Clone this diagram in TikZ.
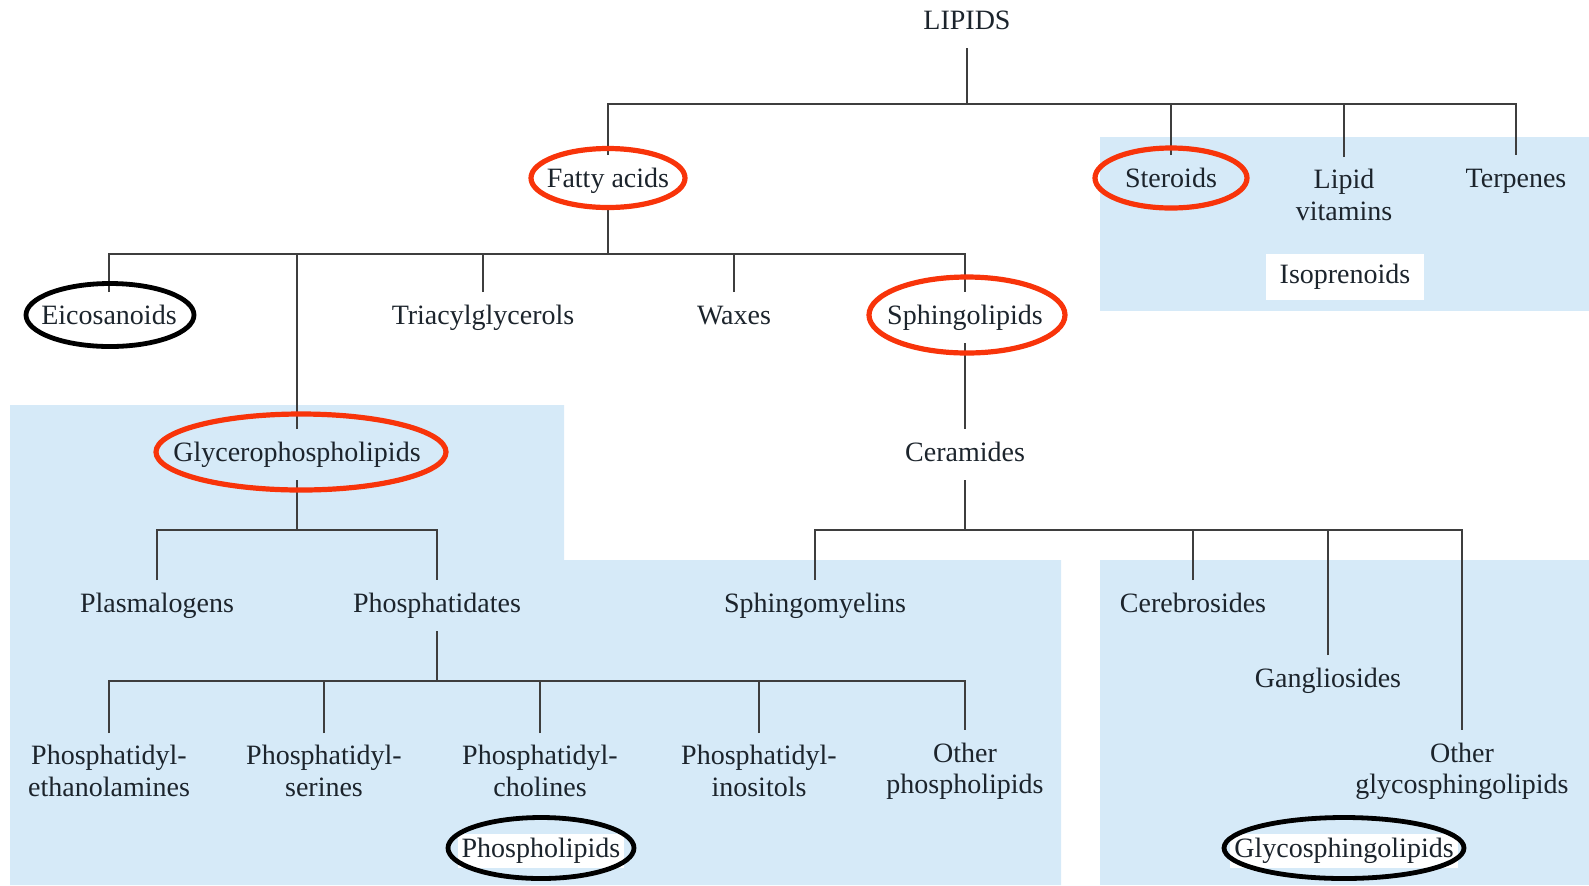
\documentclass[tikz,border=0pt]{standalone}
\usepackage{fontspec}
\setmainfont{Liberation Serif}
\usepackage{tikz}
\usetikzlibrary{shapes.geometric}
\definecolor{panel}{RGB}{214,234,248}
\definecolor{ring}{RGB}{248,52,10}
\definecolor{ink}{RGB}{28,36,44}
\definecolor{wire}{RGB}{62,62,62}
\tikzstyle{item} = [text=ink, text height=10pt, text depth=3pt, inner xsep=3pt, inner ysep=6pt, yshift=-1.3pt]
\tikzstyle{item2} = [text=ink, align=center, inner xsep=3pt, inner ysep=6pt, yshift=-1pt]
\tikzstyle{label} = [item, fill=white, inner ysep=2pt, inner xsep=2pt]
\tikzstyle{link} = [draw=wire, line width=0.9pt]
\tikzstyle{redring} = [draw=ring, line width=2.6pt]
\tikzstyle{blackring} = [draw=black, line width=2.4pt]

\begin{document}
\begin{tikzpicture}[x=0.5pt, y=0.5pt, font=\fontsize{14}{15.7}\selectfont]
\useasboundingbox (0,0) rectangle (1589,-885);
\fill[panel] (1100,-137) rectangle (1589,-311);
\fill[panel] (10,-405) -- (564,-405) -- (564,-560) -- (1061,-560) -- (1061,-885) -- (10,-885) -- cycle;
\fill[panel] (1100,-560) rectangle (1589,-885);

\node (lipids) [item] at (967,-20) {LIPIDS};
\node (fatty) [item] at (608,-178) {Fatty acids};
\node (ster) [item] at (1171,-178) {Steroids};
\node (vit) [item2] at (1344,-193) {Lipid\\vitamins};
\node (terp) [item] at (1516,-178) {Terpenes};
\node (iso) [label, inner xsep=7pt, inner ysep=5pt] at (1345,-274) {Isoprenoids};

\node (eico) [item] at (109,-315) {Eicosanoids};
\node (triac) [item] at (483,-315) {Triacylglycerols};
\node (waxes) [item] at (734,-315) {Waxes};
\node (sphingo) [item] at (965,-315) {Sphingolipids};
\node (gpl) [item] at (297,-452) {Glycerophospholipids};
\node (cer) [item] at (965,-452) {Ceramides};

\node (plasm) [item] at (157,-603) {Plasmalogens};
\node (pa) [item] at (437,-603) {Phosphatidates};
\node (smy) [item] at (815,-603) {Sphingomyelins};
\node (cereb) [item] at (1193,-603) {Cerebrosides};
\node (gang) [item] at (1328,-678) {Gangliosides};
\node (oglyc) [item2] at (1462,-769) {Other\\glycosphingolipids};

\node (pe) [item2] at (109,-769) {Phosphatidyl-\\ethanolamines};
\node (ps) [item2] at (324,-769) {Phosphatidyl-\\serines};
\node (pc) [item2] at (540,-769) {Phosphatidyl-\\cholines};
\node (pi) [item2] at (759,-769) {Phosphatidyl-\\inositols};
\node (opl) [item2] at (965,-769) {Other\\phospholipids};

\node (phl) [label] at (541,-848) {Phospholipids};
\node (gsl) [label] at (1344,-848) {Glycosphingolipids};

\coordinate (bus1) at (967,-104);
\coordinate (bus2) at (608,-254);
\coordinate (bus3) at (965,-530);
\coordinate (bus4) at (297,-530);
\coordinate (bus5) at (437,-681);

\draw [link] (lipids) -- (bus1);
\draw [link] (fatty) |- (bus1) -| (terp);
\draw [link] (ster) -- (ster |- bus1);
\draw [link] (vit) -- (vit |- bus1);

\draw [link] (fatty) -- (bus2);
\draw [link] (eico) |- (bus2) -| (sphingo);
\draw [link] (triac) -- (triac |- bus2);
\draw [link] (waxes) -- (waxes |- bus2);
\draw [link] (gpl) -- (gpl |- bus2);

\draw [link] (sphingo) -- (cer);
\draw [link] (cer) -- (bus3);
\draw [link] (smy) |- (bus3) -| (oglyc);
\draw [link] (cereb) -- (cereb |- bus3);
\draw [link] (gang) -- (gang |- bus3);

\draw [link] (gpl) -- (bus4);
\draw [link] (plasm) |- (bus4) -| (pa);
\draw [link] (pa) -- (bus5);
\draw [link] (pe) |- (bus5) -| (opl);
\draw [link] (ps) -- (ps |- bus5);
\draw [link] (pc) -- (pc |- bus5);
\draw [link] (pi) -- (pi |- bus5);

\draw [redring] (608,-178) ellipse [x radius=77, y radius=29.5];
\draw [redring] (1171,-178) ellipse [x radius=76, y radius=30];
\draw [redring] (967,-315) ellipse [x radius=98, y radius=38];
\draw [redring] (301,-452) ellipse [x radius=145, y radius=38];
\draw [blackring] (110,-315) ellipse [x radius=84, y radius=31.5];
\draw [blackring] (541,-848) ellipse [x radius=93, y radius=30.5];
\draw [blackring] (1344,-848) ellipse [x radius=120, y radius=30.5];
\end{tikzpicture}
\end{document}
